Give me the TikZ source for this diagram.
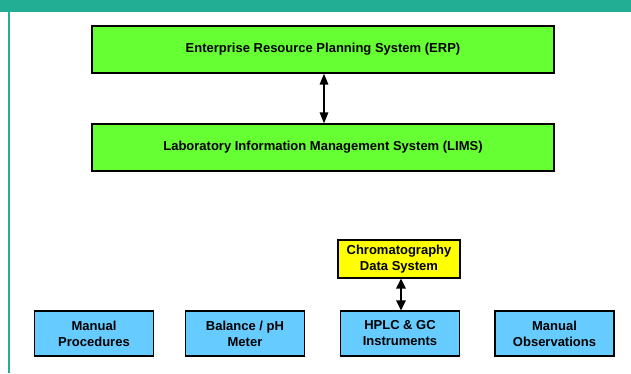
\documentclass[tikz,border=0pt]{standalone}
\usepackage{fontspec}
\setmainfont{Liberation Sans}
\usetikzlibrary{arrows.meta}
\definecolor{bandteal}{HTML}{22AE94}
\definecolor{sysgreen}{HTML}{66FF33}
\definecolor{cdsyellow}{HTML}{FFFF00}
\definecolor{instblue}{HTML}{66CCFF}
\tikzset{
  sysbox/.style={draw=black, line width=1.3pt, fill=sysgreen, minimum width=462pt, minimum height=47pt,
    font=\fontsize{13}{16}\selectfont\bfseries, inner sep=0pt},
  smallbox/.style={draw=black, line width=1.3pt, minimum height=45pt, align=center,
    font=\fontsize{13}{16}\selectfont\bfseries, inner sep=0pt},
  instbox/.style={smallbox, fill=instblue, minimum width=119pt},
  cdsbox/.style={smallbox, fill=cdsyellow, minimum width=122pt, minimum height=38pt},
  link/.style={line width=1.6pt, {Triangle[length=11pt,width=8.5pt]}-{Triangle[length=11pt,width=8.5pt]}},
  shortlink/.style={line width=1.6pt, {Triangle[length=10pt,width=9.5pt]}-{Triangle[length=10pt,width=9.5pt]}}
}
\begin{document}
\begin{tikzpicture}[x=1pt,y=-1pt]
  \useasboundingbox (0,0) rectangle (631,373);
  \fill[white] (0,0) rectangle (631,373);
  % header band and left rule
  \fill[bandteal] (0,0) rectangle (631,12);
  \fill[bandteal] (8,12) rectangle (10,373);

  % enterprise systems
  \node[sysbox] (erp) at (323,49.5) {Enterprise Resource Planning System (ERP)};
  \node[sysbox] (lims) at (323,147.5) {Laboratory Information Management System (LIMS)};
  \draw[link] (erp.south -| 324,0) -- (lims.north -| 324,0);

  % data system
  \node[cdsbox] (cds) at (399,259) {Chromatography\\Data System};

  % sources
  \node[instbox] (manp) at (94,333.5) {Manual\\Procedures};
  \node[instbox] (bal) at (245,333.5) {Balance / pH\\Meter};
  \node[instbox] (hplc) at (400,333.5) {HPLC \& GC\\Instruments};
  \node[instbox] (mano) at (554.5,333.5) {Manual\\Observations};

  \draw[shortlink] (cds.south -| 401,0) -- (hplc.north -| 401,0);
\end{tikzpicture}
\end{document}
